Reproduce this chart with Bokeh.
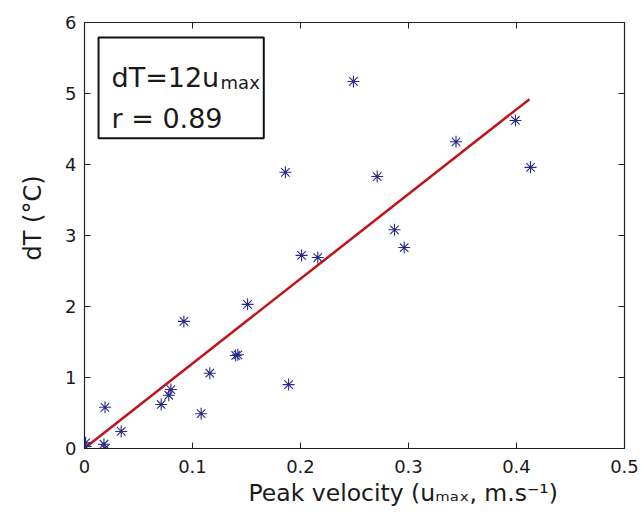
from bokeh.plotting import figure
from bokeh.models import Range1d, LinearAxis, BoxAnnotation, Label, FixedTicker, Title
from bokeh.embed import file_html
from bokeh.resources import INLINE

# data
peak_velocity = [0.249, 0.186, 0.271, 0.344, 0.399, 0.413, 0.201, 0.216, 0.287, 0.296,
                 0.151, 0.092, 0.140, 0.142, 0.116, 0.080, 0.078, 0.071, 0.108, 0.189,
                 0.019, 0.034, 0.001, 0.001, 0.018, 0.019]
delta_t = [5.17, 3.89, 3.83, 4.32, 4.62, 3.96, 2.72, 2.69, 3.08, 2.83,
           2.03, 1.79, 1.31, 1.32, 1.06, 0.83, 0.75, 0.62, 0.49, 0.90,
           0.58, 0.24, 0.08, 0.03, 0.06, 0.00]
fit_x = [0.003, 0.412]
fit_y = [0.04, 4.92]
x_ticks = [0, 0.1, 0.2, 0.3, 0.4, 0.5]
y_ticks = [0, 1, 2, 3, 4, 5, 6]

FONT = "DejaVu Sans"
TXT = "#1a1a1a"

p = figure(width=642, height=518, output_backend="svg", toolbar_location=None,
           x_range=Range1d(0, 0.5), y_range=Range1d(0, 6),
           min_border_left=84, min_border_right=18, min_border_top=22, min_border_bottom=70)
p.background_fill_color = "white"
p.border_fill_color = "white"
p.outline_line_color = "#222222"
p.outline_line_width = 1.2
p.xgrid.visible = False
p.ygrid.visible = False

for ax, ticks in ((p.xaxis[0], x_ticks), (p.yaxis[0], y_ticks)):
    ax.ticker = FixedTicker(ticks=ticks)
    ax.minor_tick_line_color = None
    ax.major_tick_in = 6
    ax.major_tick_out = 0
    ax.major_tick_line_color = "#222222"
    ax.axis_line_color = "#222222"
    ax.major_label_text_font = FONT
    ax.major_label_text_font_size = "18px"
    ax.major_label_text_color = TXT

p.xaxis[0].major_label_standoff = 11
p.yaxis[0].major_label_standoff = 8

for loc, ticks in (("right", y_ticks), ("above", x_ticks)):
    ax = LinearAxis(ticker=FixedTicker(ticks=ticks),
                    major_label_overrides={t: "" for t in ticks},
                    major_tick_in=6, major_tick_out=0, minor_tick_line_color=None,
                    axis_line_color=None, major_tick_line_color="#222222",
                    major_label_standoff=0)
    p.add_layout(ax, loc)

p.line(fit_x, fit_y, line_color="#c0141c", line_width=2.5)
p.scatter(peak_velocity, delta_t, marker="asterisk", size=12, line_color="#2a2a85", line_width=1.1)

# annotation box
p.add_layout(BoxAnnotation(left=0.013, right=0.166, top=5.79, bottom=4.37,
                           fill_color=None, fill_alpha=0, line_color="#111111",
                           line_alpha=1, line_width=2))
p.add_layout(Label(x=0.025, y=5.225, text="dT=12u", text_font=FONT, text_font_size="27px",
                   text_color=TXT, text_baseline="alphabetic"))
p.add_layout(Label(x=0.126, y=5.155, text="max", text_font=FONT, text_font_size="18px",
                   text_color=TXT, text_baseline="alphabetic"))
p.add_layout(Label(x=0.025, y=4.644, text="r = 0.89", text_font=FONT, text_font_size="27px",
                   text_color=TXT, text_baseline="alphabetic"))

# axis labels
p.add_layout(Title(text="Peak velocity (uₘₐₓ, m.s⁻¹)", align="left", offset=164,
                   text_font=FONT, text_font_size="23.5px", text_font_style="normal",
                   text_color=TXT, standoff=2), "below")
p.add_layout(Title(text="dT (°C)", align="left", offset=188,
                   text_font=FONT, text_font_size="24px", text_font_style="normal",
                   text_color=TXT, standoff=32), "left")

open("out.html", "w").write(file_html(p, INLINE))
